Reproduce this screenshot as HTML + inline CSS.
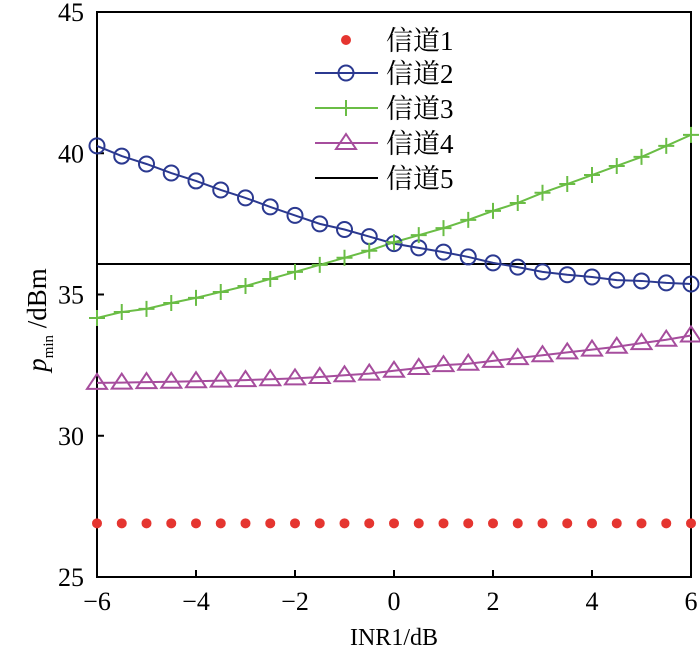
<!DOCTYPE html>
<html><head><meta charset="utf-8"><style>
body{margin:0;background:#fff;}
svg{display:block;font-family:"Liberation Serif","Noto Serif CJK SC",serif;}
</style></head><body>
<svg id="chart" width="700" height="656">
<g id="plot"></g>
</svg>
<script>
const xValues=[-6,-5.5,-5,-4.5,-4,-3.5,-3,-2.5,-2,-1.5,-1,-0.5,0,0.5,1,1.5,2,2.5,3,3.5,4,4.5,5,5.5,6];
const ch1=[26.9,26.9,26.9,26.9,26.9,26.9,26.9,26.9,26.9,26.9,26.9,26.9,26.9,26.9,26.9,26.9,26.9,26.9,26.9,26.9,26.9,26.9,26.9,26.9,26.9];
const ch2=[40.26,39.9,39.62,39.3,39.02,38.7,38.42,38.1,37.8,37.5,37.3,37.05,36.8,36.65,36.5,36.33,36.12,35.97,35.8,35.7,35.62,35.51,35.48,35.41,35.37];
const ch3=[34.17,34.38,34.49,34.7,34.88,35.09,35.3,35.55,35.8,36.05,36.3,36.55,36.85,37.1,37.35,37.64,37.96,38.24,38.6,38.91,39.23,39.55,39.87,40.26,40.65];
const ch4=[31.87,31.88,31.9,31.91,31.93,31.95,31.97,32.0,32.03,32.08,32.14,32.2,32.3,32.4,32.5,32.55,32.65,32.75,32.85,32.95,33.05,33.15,33.28,33.4,33.55];
const ch5=[36.08,36.08];
const xTicks=[-6,-4,-2,0,2,4,6];
const yTicks=[25,30,35,40,45];
const legendLabels=["信道1","信道2","信道3","信道4","信道5"];

const L=97,R=691,T=12,B=577;
const sx=v=>L+(v+6)/12*(R-L);
const sy=v=>B-(v-25)/20*(B-T);
const NS="http://www.w3.org/2000/svg";
const g=document.getElementById('plot');
function mk(tag,attrs,parent){const e=document.createElementNS(NS,tag);for(const k in attrs)e.setAttribute(k,attrs[k]);(parent||g).appendChild(e);return e;}

const frame=mk('rect',{x:L,y:T,width:R-L,height:B-T,fill:'none',stroke:'#000','stroke-width':2});



xTicks.forEach(v=>{
  const t=mk('line',{x1:sx(v),x2:sx(v),y1:B,y2:B-7,stroke:'#000','stroke-width':2});
  
  
  const tx=mk('text',{x:sx(v),y:B+33,'text-anchor':'middle','font-size':26});
  tx.textContent=(v<0?'\u2212'+Math.abs(v):String(v));
  
  
});
yTicks.forEach(v=>{
  const t=mk('line',{x1:L,x2:L+7,y1:sy(v),y2:sy(v),stroke:'#000','stroke-width':2});
  
  
  const tx=mk('text',{x:L-13,y:sy(v)+9,'text-anchor':'end','font-size':26});
  tx.textContent=String(v);
  
  
});

const xt=mk('text',{x:(L+R)/2,y:645,'text-anchor':'middle','font-size':24});
xt.textContent='INR1/dB';



const yt=mk('text',{transform:'translate(46,320) rotate(-90)','text-anchor':'middle','font-size':27});


yt.innerHTML='<tspan font-style="italic">p</tspan><tspan font-size="15" dy="7">min</tspan><tspan dy="-7"> /dBm</tspan>';

const cols=['#e53530','#2b3990','#6abd45','#a64d9d','#000'];
function poly(vals,col,name){
  const p=mk('polyline',{points:vals.map((v,i)=>sx(xValues[i])+','+sy(v)).join(' '),fill:'none',stroke:col,'stroke-width':2});
  
  
}
function marker(type,cx,cy,col,parent){
  let m;
  if(type==='dot')m=mk('circle',{cx,cy,r:5,fill:col},parent);
  else if(type==='circle')m=mk('circle',{cx,cy,r:7.5,fill:'none',stroke:col,'stroke-width':2},parent);
  else if(type==='plus')m=mk('path',{d:`M${cx-8},${cy}H${cx+8}M${cx},${cy-8}V${cy+8}`,stroke:col,'stroke-width':2},parent);
  else m=mk('path',{d:`M${cx},${cy-9}L${cx+10},${cy+6}L${cx-10},${cy+6}Z`,fill:'none',stroke:col,'stroke-width':2},parent);
  return m;
}
const l5=mk('line',{x1:sx(-6),x2:sx(6),y1:sy(ch5[0]),y2:sy(ch5[1]),stroke:'#000','stroke-width':2});


poly(ch2,cols[1],'series-channel2-line');
poly(ch3,cols[2],'series-channel3-line');
poly(ch4,cols[3],'series-channel4-line');
const series=[[ch1,'dot',0],[ch2,'circle',1],[ch3,'plus',2],[ch4,'tri',3]];
series.forEach(([vals,type,ci])=>{
  vals.forEach((v,i)=>{
    const m=marker(type,sx(xValues[i]),sy(v),cols[ci]);
    
    
  });
});

const lg=mk('g',{});


const rows=[40,73,108,143,178];
const types=['dot','circle','plus','tri','none'];
legendLabels.forEach((lab,i)=>{
  const y=rows[i];
  if(i>0){const ln=mk('line',{x1:315,x2:378,y1:y,y2:y,stroke:cols[i],'stroke-width':2},lg);
    
    }
  if(types[i]!=='none'){const m=marker(types[i],346,y,cols[i],lg);
    
    }
  const t=mk('text',{x:386,y:y+10,'font-size':27,'font-family':'"Liberation Serif","Noto Serif CJK SC",serif'},lg);
  t.textContent=lab;
  
  
});
</script>
</body></html>
